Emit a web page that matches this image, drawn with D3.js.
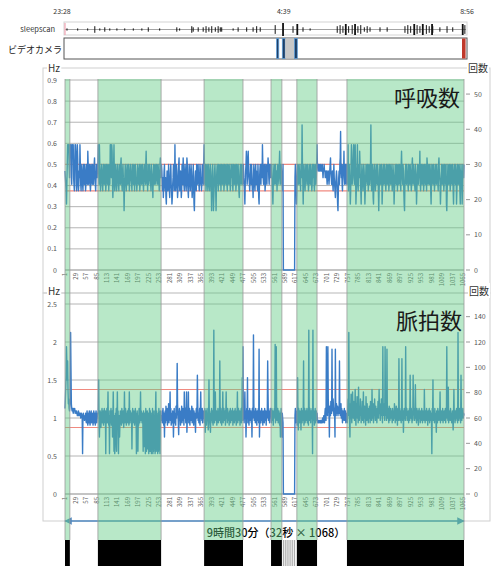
<!DOCTYPE html>
<html>
<head>
<meta charset="utf-8">
<script src="https://cdn.jsdelivr.net/npm/d3@7"></script>
<style>
  body { margin: 0; background: #fff; }
  svg { display: block; font-family: "Noto Sans CJK JP", "Noto Sans", sans-serif; }
</style>
</head>
<body>
<svg id="chart" width="494" height="566"></svg>
<script>
// ---- data -------------------------------------------------------------
const epochCount = 1068;          // number of 32 s epochs
const epochSeconds = 32;

// breaths counted per 32 s epoch (Hz = count / 32)
const breathCounts = [
  15,14,13,12,10,13,16,19,18,19,19,16,14,19,
  19,18,19,14,13,19,19,17,19,14,13,12,16,19,19,18,13,12,14,19,
  17,13,12,13,15,14,19,16,13,12,14,16,15,13,12,14,16,15,13,16,
  14,12,13,15,16,14,13,18,16,13,14,15,16,13,12,13,16,14,15,13,
  16,14,13,15,16,17,14,13,12,14,16,15,14,16,
  16,19,15,13,19,16,14,12,13,15,16,14,13,12,15,16,14,13,15,16,
  14,12,13,16,15,14,13,16,15,12,14,16,13,19,19,16,14,19,18,13,
  11,13,16,19,14,12,13,16,15,14,12,13,16,15,14,13,12,16,15,14,
  13,16,17,14,13,12,15,16,14,13,9,12,14,16,15,13,12,14,16,15,
  13,14,16,15,12,13,14,16,15,14,13,12,16,15,14,13,16,15,12,14,
  16,15,13,14,12,13,16,15,14,13,15,16,12,13,14,16,15,13,14,16,
  15,13,12,14,16,15,14,13,16,18,15,13,14,12,16,15,13,14,16,15,
  14,13,12,16,15,14,13,11,14,16,15,13,14,16,15,13,14,16,15,14,
  13,16,15,14,12,13,16,17,14,16,
  16,15,13,12,14,11,13,15,16,13,12,14,11,10,13,15,14,12,13,16,
  14,12,11,13,15,16,13,12,10,11,13,14,16,15,12,13,19,14,12,13,
  16,15,13,11,12,14,16,17,13,12,14,15,13,11,12,16,14,13,17,15,
  13,12,14,16,15,13,12,14,17,16,13,12,11,14,16,15,13,12,14,16,
  15,13,11,12,14,16,13,10,9,12,14,15,13,12,16,14,13,15,16,14,
  13,12,14,16,15,13,14,12,13,16,15,14,13,16,
  19,15,13,14,16,12,13,15,16,14,12,13,16,15,13,12,14,16,15,13,
  9,12,14,16,13,9,11,13,15,16,14,12,9,13,15,16,14,13,12,16,
  15,14,13,16,15,12,14,16,15,13,14,16,15,12,13,16,15,14,13,16,
  14,13,12,16,15,14,13,16,15,14,12,13,16,15,14,16,13,12,14,16,
  15,13,14,16,15,12,13,16,14,15,13,16,14,12,11,13,15,16,14,13,
  16,15,14,13,16,
  16,14,13,12,10,13,15,16,18,17,13,14,16,18,15,14,13,12,14,16,
  15,13,16,14,12,13,11,14,16,15,13,12,14,16,13,15,14,13,12,16,
  14,11,10,13,15,16,14,13,16,15,14,19,16,14,13,15,16,14,12,13,
  16,15,14,13,16,15,17,16,14,13,16,15,14,16,
  15,14,16,13,12,10,13,15,16,14,13,15,16,14,13,15,12,14,16,15,
  14,13,16,18,15,14,13,16,15,14,13,12,16,
  0,0,0,0,0,0,0,0,0,0,0,0,0,0,0,0,0,0,0,0,0,0,0,0,0,0,0,0,0,0,0,
  14,16,15,13,10,12,14,16,15,13,14,16,15,13,14,12,16,15,14,22,
  16,13,10,14,16,15,13,12,14,16,15,14,13,16,15,14,12,13,16,15,
  14,13,16,15,14,12,13,16,15,14,16,13,12,14,16,15,13,14,16,19,
  16,16,15,16,16,15,15,16,16,15,15,15,16,16,15,14,15,15,16,15,
  15,14,14,15,15,14,13,14,15,15,14,13,14,15,16,17,15,14,13,14,
  15,13,12,14,16,14,13,12,11,13,14,15,14,12,10,9,12,14,15,13,
  16,17,21,15,14,16,13,12,14,16,15,18,14,13,15,16,14,13,16,
  16,14,13,19,12,15,16,14,13,10,12,16,19,15,13,14,16,18,19,14,
  13,16,19,15,10,12,14,16,19,13,12,15,16,14,18,16,13,12,10,14,
  16,15,13,12,14,16,15,13,10,12,14,16,15,14,13,16,15,12,13,16,
  14,13,15,16,22,14,12,13,16,15,11,10,13,16,15,14,12,13,16,15,
  14,13,16,15,12,9,12,14,16,15,13,14,16,15,10,12,14,16,15,13,
  14,16,15,13,12,14,16,15,13,14,16,15,12,13,16,14,15,13,16,15,
  14,12,13,16,15,14,10,12,13,16,15,14,13,16,15,12,14,16,15,13,
  14,16,15,13,12,16,18,15,14,13,16,15,12,10,9,13,15,16,14,13,
  16,15,14,13,12,16,15,14,13,16,15,14,12,13,16,17,14,13,16,15,
  14,13,12,16,15,14,10,12,14,16,15,13,14,16,15,18,13,12,14,16,
  15,13,14,16,15,12,13,16,14,15,13,16,14,12,17,16,14,13,15,16,
  14,13,16,15,12,10,13,16,15,14,13,16,15,14,12,13,16,15,14,13,
  16,15,14,13,12,16,17,15,14,13,10,12,14,16,15,13,14,16,15,12,
  13,16,15,14,13,16,10,9,12,14,16,15,13,14,16,15,12,13,16,15,
  14,13,16,15,12,10,13,16,15,14,13,16,15,10,12,14,16,15,13,14,
  16,15,12,10,13,16,14,15,10,12,16,15,14,16
];

// heart beats counted per 32 s epoch (Hz = count / 32)
const pulseCounts = [
  36,40,45,50,62,55,48,56,44,38,40,36,35,37,
  40,68,52,38,36,35,36,35,34,36,35,35,36,34,35,35,34,35,34,33,
  34,33,35,34,33,34,33,34,32,33,34,33,32,17,33,34,32,33,31,33,
  32,34,31,30,33,35,31,29,34,32,30,35,33,29,31,34,35,30,32,34,
  31,29,33,35,30,32,34,29,31,35,33,30,32,34,
  34,35,48,30,24,32,35,33,28,31,34,36,30,33,35,29,32,36,33,30,
  35,17,34,32,36,30,33,43,31,29,33,17,35,30,32,36,29,33,35,24,
  31,43,30,18,33,17,20,34,30,36,18,32,43,29,35,17,31,33,24,30,
  35,33,31,29,36,34,30,33,35,28,32,43,30,33,36,31,29,34,32,35,
  30,33,36,29,43,32,30,35,33,31,34,19,33,36,30,32,35,31,29,33,
  36,30,34,17,32,35,31,18,33,29,36,34,30,32,43,31,35,33,30,34,
  33,18,35,31,20,34,30,17,36,32,18,33,35,19,31,34,17,32,36,18,
  35,18,33,17,34,19,36,17,32,18,35,20,33,17,34,43,18,35,19,33,
  17,34,18,36,19,33,17,35,30,33,
  33,31,35,30,36,33,29,34,24,32,35,30,37,33,31,36,29,34,32,38,
  30,35,33,43,31,36,29,34,32,30,35,33,24,31,36,30,34,33,29,37,
  32,35,55,38,34,30,25,33,36,31,34,29,35,32,37,30,33,36,31,34,
  29,43,35,32,36,30,33,43,26,31,35,33,43,30,34,36,29,33,35,31,
  34,37,30,32,36,33,29,35,31,34,30,26,33,36,32,35,50,38,31,34,
  30,33,36,29,35,43,32,34,31,36,30,33,35,32,
  34,30,36,26,33,35,29,32,36,31,34,27,30,48,33,35,29,26,34,31,
  36,33,30,35,29,32,69,34,30,36,43,33,31,35,29,34,32,36,30,33,
  35,31,56,34,30,36,33,29,35,32,43,30,34,36,31,33,35,29,34,43,
  32,35,30,36,33,31,34,29,35,32,36,30,33,35,31,34,36,29,33,32,
  35,30,34,36,31,33,29,35,32,43,30,34,36,33,31,35,29,34,32,36,
  30,33,49,31,62,
  33,36,30,34,43,32,35,24,31,36,33,49,30,34,35,29,33,36,31,34,
  35,30,33,24,36,32,34,67,38,31,35,33,30,36,32,34,29,35,31,33,
  36,30,61,24,32,35,33,30,34,36,31,33,29,35,32,34,30,36,33,31,
  35,29,34,32,36,56,42,31,35,33,30,34,36,33,
  34,30,36,33,31,35,29,34,32,36,33,63,30,35,62,33,31,34,36,30,
  33,35,31,29,34,24,33,36,31,24,34,32,30,
  0,0,0,0,0,0,0,0,0,0,0,0,0,0,0,0,0,0,0,0,0,0,0,0,0,0,0,0,0,0,0,
  33,36,30,34,31,35,29,49,32,27,36,33,30,35,31,34,27,36,33,30,
  35,31,34,56,29,33,36,30,32,35,31,34,36,30,33,35,29,69,34,31,
  36,33,30,35,32,34,36,17,69,31,35,33,29,34,36,30,33,35,31,34,
  31,30,31,30,31,31,30,30,31,30,31,30,30,31,32,30,31,33,31,30,
  34,36,33,31,62,38,35,33,62,40,36,34,24,37,35,33,39,36,34,61,
  38,35,40,37,33,36,34,24,61,36,33,38,35,34,37,33,36,35,34,56,
  36,33,35,38,32,36,34,30,35,31,33,34,36,31,33,35,30,34,32,
  34,30,36,40,33,68,35,31,24,38,36,42,33,30,37,43,35,32,39,34,
  31,36,44,33,29,38,35,41,32,36,30,45,34,31,37,33,40,35,30,36,
  33,39,31,35,43,30,34,37,32,36,29,41,34,31,38,33,35,30,36,32,
  37,34,30,39,33,36,31,44,35,32,38,30,36,33,40,34,31,37,33,35,
  30,36,33,39,32,35,44,34,38,31,36,33,40,37,34,30,62,34,33,36,
  38,31,62,35,33,36,31,61,34,32,36,33,30,37,35,31,34,36,32,35,
  33,30,36,34,31,35,32,38,36,30,34,33,37,31,35,29,36,33,31,57,
  34,36,31,35,33,30,36,57,34,31,35,26,33,36,32,34,31,62,35,33,
  36,31,34,32,35,30,33,36,31,50,34,32,36,33,30,35,31,50,34,36,
  33,31,35,46,32,34,30,36,33,31,35,29,34,36,32,33,30,35,31,34,
  36,33,30,35,32,34,31,44,33,30,35,34,31,36,32,33,29,35,31,34,
  36,30,33,35,31,34,32,17,36,33,48,31,35,33,30,36,32,34,31,26,
  35,33,30,36,32,34,31,35,33,43,30,34,32,35,31,33,36,30,34,32,
  35,31,33,36,30,34,32,62,35,33,31,45,30,34,33,35,31,36,32,34,
  30,33,35,31,27,34,44,32,33,30,35,31,34,36,32,33,30,68,35,31,
  34,36,32,33,30,50,35,31,34,33,36,32,34,33
];

// sleep periods (epoch index ranges) and the no-signal interval
const sleepBands = [[1, 14], [89, 258], [373, 477], [552, 581], [621, 675], [755, 1068]];
const noSignal = [585, 615];

// reference lines, counts per epoch
const breathRefs = [16, 12];
const pulseRefs = [44, 28];

// axis ticks
const xTickLabels = [1,29,57,85,113,141,169,197,225,253,281,309,337,365,393,421,449,477,505,533,
  561,589,617,645,673,701,729,757,785,813,841,869,897,925,953,981,1009,1037,1065];
const breathHzTicks = [0, 0.1, 0.2, 0.3, 0.4, 0.5, 0.6, 0.7, 0.8, 0.9];
const breathPerMinTicks = [0, 10, 20, 30, 40, 50];
const pulseHzTicks = [0, 0.5, 1, 1.5, 2, 2.5];
const pulsePerMinTicks = [0, 20, 40, 60, 80, 100, 120, 140];

// recording timeline (minutes after 23:28)
const clockLabels = [["23:28", 0], ["4:39", 311], ["8:56", 568]];
const sleepscanEvents = [[7,1],[22,1],[36,1],[46,3],[53,1],[60,2],[67,1],[77,1],[88,1],[100,1],
  [112,1],[121,2],[137,1],[161,2],[165,1],[182,3],[184,2],[191,2],[198,2],[202,3],[206,2],[210,3],
  [215,2],[219,3],[222,2],[224,2],[240,1],[247,2],[259,2],[268,2],[273,3],[278,2],[299,4],[310,6],
  [324,3],[330,5],[338,2],[348,1],[386,3],[390,4],[394,3],[398,5],[402,3],[407,4],[411,5],[415,3],
  [419,4],[424,2],[428,3],[432,2],[446,2],[456,2],[481,3],[485,4],[489,3],[494,5],[498,4],[502,3],
  [506,5],[511,4],[515,3],[519,5],[520,3],[530,2],[540,3],[548,2],[562,5],[565,4]];
const cameraMarks = [[301, 304, "on"], [309, 313, "on"], [313, 326, "gap"], [326, 330, "on"], [561, 566, "end"]];

// ---- drawing ----------------------------------------------------------
const svg = d3.select("#chart");

const x = d3.scaleLinear().domain([1, epochCount]).range([65, 464]);
const yB = d3.scaleLinear().domain([0, 0.9]).range([270, 80]);
const yBmin = d3.scaleLinear().domain([0, 54]).range([270, 80]);
const yP = d3.scaleLinear().domain([0, 2.5]).range([494, 304]);
const yPmin = d3.scaleLinear().domain([0, 150]).range([494, 304]);
const tx = d3.scaleLinear().domain([0, 568]).range([62, 467]);

const toHz = c => c / epochSeconds;

// timeline header
svg.append("g").selectAll("text").data(clockLabels).join("text")
  .attr("x", d => tx(d[1])).attr("y", 14).attr("text-anchor", "middle")
  .attr("font-size", 7).attr("fill", "#333").text(d => d[0]);

svg.append("text").attr("x", 55).attr("y", 32).attr("text-anchor", "end")
  .attr("font-size", 7.5).attr("fill", "#333").text("sleepscan");
svg.append("rect").attr("x", 64).attr("y", 22).attr("width", 403).attr("height", 13)
  .attr("fill", "none").attr("stroke", "#d4d4d4");
svg.append("line").attr("x1", 65).attr("x2", 466).attr("y1", 29.5).attr("y2", 29.5)
  .attr("stroke", "#666").attr("stroke-width", 0.6);
svg.append("line").attr("x1", 65).attr("x2", 65).attr("y1", 23).attr("y2", 35)
  .attr("stroke", "#f2a3b3").attr("stroke-width", 1.2);
svg.append("g").selectAll("line").data(sleepscanEvents).join("line")
  .attr("x1", d => tx(d[0])).attr("x2", d => tx(d[0]))
  .attr("y1", d => 29.5 - d[1] * 1.1).attr("y2", d => 29.5 + d[1] * 1.1)
  .attr("stroke", "#111").attr("stroke-width", d => d[1] >= 5 ? 1.8 : 1);

svg.append("text").attr("x", 62).attr("y", 53).attr("text-anchor", "end")
  .attr("font-size", 9).attr("fill", "#222").text("ビデオカメラ");
svg.append("rect").attr("x", 64).attr("y", 38).attr("width", 403).attr("height", 21)
  .attr("fill", "#fff").attr("stroke", "#555").attr("stroke-width", 1);
svg.append("g").selectAll("rect").data(cameraMarks).join("rect")
  .attr("x", d => tx(d[0])).attr("width", d => tx(d[1]) - tx(d[0]))
  .attr("y", 38.5).attr("height", 20)
  .attr("fill", d => d[2] === "gap" ? "#c8c8c8" : d[2] === "end" ? "#c0392b" : "#1f3f66")
  .attr("stroke", d => d[2] === "on" ? "#5b9bd5" : "none").attr("stroke-width", 0.8);

// chart panels
function panel(y0, y1) {
  svg.append("rect").attr("x", 43).attr("y", y0).attr("width", 447).attr("height", y1 - y0)
    .attr("fill", "none").attr("stroke", "#cfcfcf");
}
panel(68, 293);
panel(293, 521);

function gridAndAxes(yScale, hzTicks, perMin, minScale, refs, fmt) {
  const g = svg.append("g");
  g.selectAll("line.grid").data(hzTicks.filter(v => v > 0)).join("line")
    .attr("x1", 65).attr("x2", 464).attr("y1", d => yScale(d)).attr("y2", d => yScale(d))
    .attr("stroke", "#b4b4b4").attr("stroke-width", 1);
  g.append("line").attr("x1", 65).attr("x2", 464).attr("y1", yScale(0)).attr("y2", yScale(0))
    .attr("stroke", "#8a8a8a").attr("stroke-width", 1.2);
  g.selectAll("line.ref").data(refs).join("line")
    .attr("x1", 65).attr("x2", 464)
    .attr("y1", d => yScale(toHz(d))).attr("y2", d => yScale(toHz(d)))
    .attr("stroke", "#f08a80").attr("stroke-width", 1.2);
  g.selectAll("text.l").data(hzTicks).join("text")
    .attr("x", 57).attr("y", d => yScale(d) + 2.5).attr("text-anchor", "end")
    .attr("font-size", 7).attr("fill", "#555").text(fmt);
  g.selectAll("line.rt").data(perMin).join("line")
    .attr("x1", 466).attr("x2", 470).attr("y1", d => minScale(d)).attr("y2", d => minScale(d))
    .attr("stroke", "#999");
  g.selectAll("text.r").data(perMin).join("text")
    .attr("x", 474).attr("y", d => minScale(d) + 2.5)
    .attr("font-size", 7).attr("fill", "#555").text(d => d);
  g.selectAll("text.x").data(xTickLabels).join("text")
    .attr("transform", d => `translate(${x(d)},${yScale(0) + 3}) rotate(-90)`)
    .attr("dy", "0.35em").attr("text-anchor", "end")
    .attr("font-size", 6).attr("fill", "#555").text(d => d);
}
gridAndAxes(yB, breathHzTicks, breathPerMinTicks, yBmin, breathRefs, d => d === 0 ? "0" : d3.format(".1f")(d));
gridAndAxes(yP, pulseHzTicks, pulsePerMinTicks, yPmin, pulseRefs, d => String(d));

// series
const lineColor = "#3a7cc6";
svg.append("path").datum(breathCounts)
  .attr("d", d3.line().x((d, i) => x(i + 1)).y(d => yB(toHz(d))))
  .attr("fill", "none").attr("stroke", lineColor).attr("stroke-width", 1.4).attr("stroke-linejoin", "round");
svg.append("path").datum(pulseCounts)
  .attr("d", d3.line().x((d, i) => x(i + 1)).y(d => yP(toHz(d))))
  .attr("fill", "none").attr("stroke", lineColor).attr("stroke-width", 1.4).attr("stroke-linejoin", "round");

// total duration arrow and caption
const defs = svg.append("defs");
defs.append("marker").attr("id", "arr").attr("viewBox", "0 0 10 10").attr("refX", 9).attr("refY", 5)
  .attr("markerWidth", 5).attr("markerHeight", 5).attr("orient", "auto-start-reverse")
  .append("path").attr("d", "M0,0 L10,5 L0,10 z").attr("fill", "#4f88c0");
svg.append("line").attr("x1", x(1)).attr("x2", x(epochCount)).attr("y1", 521).attr("y2", 521)
  .attr("stroke", "#4f88c0").attr("stroke-width", 1.5)
  .attr("marker-start", "url(#arr)").attr("marker-end", "url(#arr)");

const totalMin = Math.round(epochCount * epochSeconds / 60);
const caption = `${Math.floor(totalMin / 60)}時間${totalMin % 60}分（${epochSeconds}秒 × ${epochCount}）`;
svg.append("text").attr("x", 276).attr("y", 537).attr("text-anchor", "middle")
  .attr("font-size", 11).attr("font-weight", 500).attr("fill", "#000").text(caption);

// sleep period shading over everything inside the charts
svg.append("g").selectAll("rect").data(sleepBands).join("rect")
  .attr("x", d => x(d[0])).attr("width", d => x(d[1]) - x(d[0]))
  .attr("y", 79).attr("height", 540 - 79)
  .attr("fill", "rgb(98,204,132)").attr("fill-opacity", 0.45);
svg.append("g").selectAll("line").data(sleepBands.flat()).join("line")
  .attr("x1", d => x(d)).attr("x2", d => x(d)).attr("y1", 79).attr("y2", 540)
  .attr("stroke", "#9a9a9a").attr("stroke-width", 0.8);

// sleep/wake strip
svg.append("g").selectAll("rect").data(sleepBands).join("rect")
  .attr("x", d => x(d[0])).attr("width", d => x(d[1]) - x(d[0]))
  .attr("y", 540).attr("height", 26).attr("fill", "#000");
svg.append("g").selectAll("line").data(d3.range(noSignal[0], noSignal[1] + 1, 5)).join("line")
  .attr("x1", d => x(d)).attr("x2", d => x(d)).attr("y1", 540).attr("y2", 566)
  .attr("stroke", "#9a9a9a").attr("stroke-width", 0.9);

// labels on top
function boxedLabel(text, xPos, yPos, anchor, size) {
  const t = svg.append("text").attr("x", xPos).attr("y", yPos).attr("text-anchor", anchor)
    .attr("font-size", size).attr("fill", "#333").text(text);
  const b = t.node().getBBox();
  svg.insert("rect", () => t.node()).attr("x", b.x - 1).attr("y", b.y).attr("width", b.width + 2)
    .attr("height", b.height).attr("fill", "#fff");
}
boxedLabel("Hz", 48, 72, "start", 10);
boxedLabel("回数", 468, 72, "start", 10);
boxedLabel("Hz", 48, 295, "start", 10);
boxedLabel("回数", 469, 295, "start", 10);

svg.append("text").attr("x", 460).attr("y", 106).attr("text-anchor", "end")
  .attr("font-size", 22).attr("fill", "#1a1a1a").text("呼吸数");
svg.append("text").attr("x", 462).attr("y", 329).attr("text-anchor", "end")
  .attr("font-size", 22).attr("fill", "#1a1a1a").text("脈拍数");
</script>
</body>
</html>
